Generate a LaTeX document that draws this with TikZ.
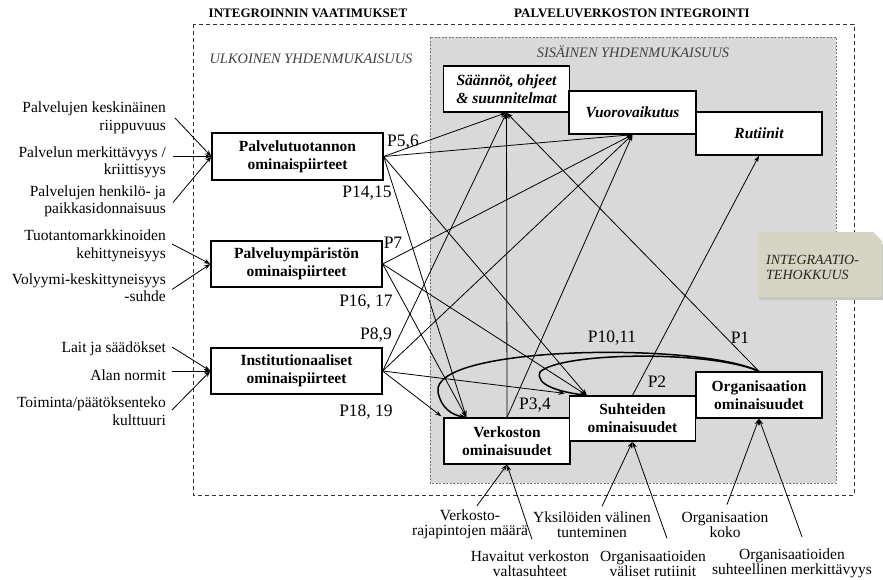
\documentclass[tikz,border=0pt]{standalone}
\usepackage{fontspec}
\setmainfont{Liberation Serif}
\usetikzlibrary{arrows.meta,calc}

\definecolor{panelgray}{RGB}{217,217,217}
\definecolor{tagkhaki}{RGB}{214,212,194}

\begin{document}
\begin{tikzpicture}[x=1pt,y=-1pt,
  boxnode/.style={draw=black, line width=1.3pt, fill=white, align=center, inner sep=0pt,
    font=\bfseries\fontsize{15.5}{18.3}\selectfont},
  outerbox/.style={boxnode, minimum width=171pt, minimum height=46pt},
  innerbox/.style={boxnode, minimum width=126pt, minimum height=45pt},
  itbox/.style={font=\bfseries\itshape\fontsize{15.5}{18.3}\selectfont},
  sidelabel/.style={align=right, anchor=east, inner sep=1pt, font=\fontsize{15.5}{17.5}\selectfont},
  footlabel/.style={align=center, inner sep=1pt, font=\fontsize{15.5}{15}\selectfont},
  plabel/.style={inner sep=0pt, font=\fontsize{17.5}{20}\selectfont},
  heading/.style={font=\bfseries\fontsize{13}{15}\selectfont},
  zonetitle/.style={font=\itshape\fontsize{14.4}{16}\selectfont, text=black!75},
  netlink/.style={line width=0.8pt, -{Stealth[length=6.5pt,width=4.5pt]}},
  bentlink/.style={line width=1.5pt, -{Stealth[length=7pt,width=5pt]}},
]

% canvas
\fill[white] (0,0) rectangle (883,579);
\useasboundingbox (0,0) rectangle (883,579);

% zones
\draw[black!80, line width=0.9pt, dash pattern=on 4pt off 3pt] (193,24) rectangle (854,495);
\draw[fill=panelgray, draw=black!55, line width=0.8pt, dash pattern=on 2pt off 1.5pt] (430,37) rectangle (836,483);

% effectiveness tag with a soft shadow underneath
\fill[black!22] (759,236) -- (874,236) -- (883,245) -- (883,300) -- (759,300) -- cycle;
\fill[tagkhaki] (758,232) -- (873,232) -- (882,241) -- (882,297) -- (758,297) -- cycle;
\node[anchor=west, align=left, inner sep=0pt, text=black!85,
  font=\itshape\fontsize{14}{15}\selectfont] (eff) at (766,267.5) {INTEGRAATIO-\\TEHOKKUUS};

% headings
\node[heading] (h1) at (308,13) {INTEGROINNIN VAATIMUKSET};
\node[heading] (h2) at (632,13) {PALVELUVERKOSTON INTEGROINTI};
\node[zonetitle] (z1) at (311,59) {ULKOINEN YHDENMUKAISUUS};
\node[zonetitle] (z2) at (633,52) {SISÄINEN YHDENMUKAISUUS};

% requirement boxes
\node[outerbox, minimum height=47pt] (pt) at (297.5,156.5) {Palvelutuotannon\\ominaispiirteet};
\node[outerbox] (py) at (296.5,264) {Palveluympäristön\\ominaispiirteet};
\node[outerbox] (in) at (296.5,371) {Institutionaaliset\\ominaispiirteet};

% integration mechanisms
\node[innerbox, itbox, minimum height=46pt] (rules) at (506.5,89) {Säännöt, ohjeet\\\& suunnitelmat};
\node[innerbox, itbox, minimum width=127pt, minimum height=43pt] (inter) at (632.5,112.5) {Vuorovaikutus};
\node[innerbox, itbox, minimum height=43pt] (rout) at (759,133.5) {Rutiinit};

% network properties
\node[innerbox, minimum height=46pt] (net) at (507,441) {Verkoston\\ominaisuudet};
\node[innerbox] (rel) at (632.5,418.5) {Suhteiden\\ominaisuudet};
\node[innerbox, minimum height=46pt] (org) at (759,395) {Organisaation\\ominaisuudet};

% proposition labels
\node[plabel] (p56) at (403,142) {P5,6};
\node[plabel] (p1415) at (367,193) {P14,15};
\node[plabel] (p7) at (393,243) {P7};
\node[plabel] (p1617) at (366,302) {P16, 17};
\node[plabel] (p89) at (376,335) {P8,9};
\node[plabel] (p1819) at (366,412) {P18, 19};
\node[plabel] (p1011) at (612,338) {P10,11};
\node[plabel] (p1) at (740,338) {P1};
\node[plabel] (p2) at (657,382) {P2};
\node[plabel] (p34) at (535,405) {P3,4};

% antecedents on the left
\node[sidelabel] (a1) at (167,118) {Palvelujen keskinäinen\\riippuvuus};
\node[sidelabel] (a2) at (167,162.5) {Palvelun merkittävyys /\\kriittisyys};
\node[sidelabel] (a3) at (167,201.5) {Palvelujen henkilö- ja\\paikkasidonnaisuus};
\node[sidelabel] (b1) at (167,246) {Tuotantomarkkinoiden\\kehittyneisyys};
\node[sidelabel] (b2) at (167,287.5) {Volyymi-keskittyneisyys\\-suhde};
\node[sidelabel] (c1) at (167,349) {Lait ja säädökset};
\node[sidelabel] (c2) at (167,375) {Alan normit};
\node[sidelabel] (c3) at (167,411) {Toiminta/päätöksenteko\\kulttuuri};

\draw[netlink] ($(a1.east)+(8,0)$) -- (pt.west);
\draw[netlink] ($(a2.east |- pt.west)+(6,0)$) -- (pt.west);
\draw[netlink] ($(a3.east)+(6,1)$) -- (pt.west);
\draw[netlink] ($(b1.east)+(5,-2)$) -- (py.west);
\draw[netlink] ($(b2.east)+(5,2)$) -- (py.west);
\draw[netlink] ($(c1.east)+(5,-2)$) -- (in.west);
\draw[netlink] ($(c2.east |- in.west)+(5,0)$) -- (in.west);
\draw[netlink] ($(c3.east)+(5,-1)$) -- (in.west);

% antecedents below
\node[footlabel] (d1) at (470,524.5) {Verkosto-\\rajapintojen määrä};
\node[footlabel] (d2) at (530,563.5) {Havaitut verkoston\\valtasuhteet};
\node[footlabel] (e1) at (592,524.5) {Yksilöiden välinen\\tunteminen};
\node[footlabel] (e2) at (653,563.5) {Organisaatioiden\\väliset rutiinit};
\node[footlabel] (f1) at (725,524.5) {Organisaation\\koko};
\node[footlabel] (f2) at (792,563.5) {Organisaatioiden\\suhteellinen merkittävyys};

\draw[netlink] ($(d1.north)+(7,-3)$) -- (net.south);
\draw[netlink] ($(d2.north)+(2,-10)$) -- (net.south);
\draw[netlink] ($(e1.north)+(10,-4)$) -- (rel.south);
\draw[netlink] ($(e2.north)+(14,-11)$) -- (rel.south);
\draw[netlink] ($(f1.north)+(2,-6)$) -- (org.south);
\draw[netlink] ($(f2.north)+(10,-11)$) -- (org.south);

% entry points on the property boxes
\coordinate (netin) at ($(net.north west)+(23,0)$);
\coordinate (relin) at ($(rel.north west)+(18,0)$);

% propositions
\draw[netlink] (pt.east) -- (rules.south);
\draw[netlink] (pt.east) -- (inter.south);
\draw[netlink] (pt.east) -- (netin);
\draw[netlink] (pt.east) -- (relin);
\draw[netlink] (py.east) -- (inter.south);
\draw[netlink] (py.east) -- (netin);
\draw[netlink] (py.east) -- (relin);
\draw[netlink] (in.east) -- (rules.south);
\draw[netlink] (in.east) -- (inter.south);
\draw[netlink] (in.east) -- ($(net.north west)+(-2,-1)$);
\draw[netlink] (in.east) -- ($(rel.north west)+(-4,-2)$);
\draw[netlink] (net.north) -- (rules.south);
\draw[netlink] (net.north) -- (inter.south);
\draw[netlink] (rel.north) -- (rout.south);
\draw[netlink] (org.north) -- (rules.south);
\draw[bentlink] (org.north) .. controls (700,342) and (430,345) .. (438,392)
  .. controls (441,408) and (452,415) .. (netin);
\draw[bentlink] (org.north) .. controls (710,350) and (560,352) .. (540,372)
  .. controls (535,385) and (560,392) .. (relin);

\end{tikzpicture}
\end{document}
